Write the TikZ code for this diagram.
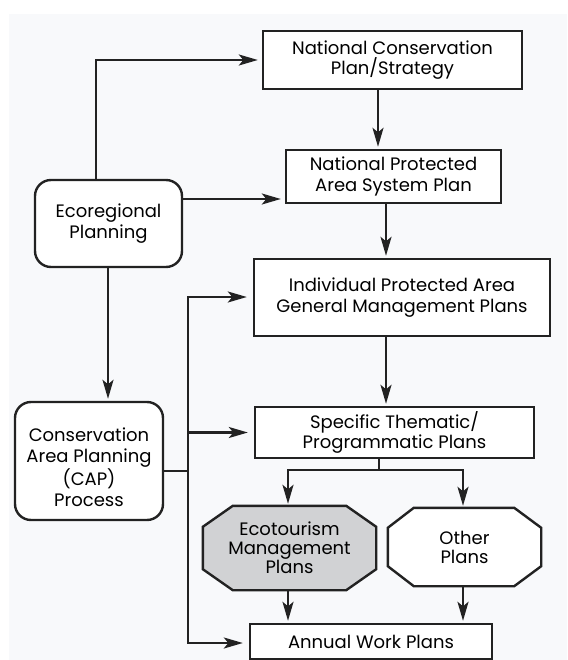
\documentclass[tikz,border=0pt]{standalone}
\usepackage{fontspec}
\setmainfont{Poppins}
\usetikzlibrary{arrows.meta,backgrounds}

\definecolor{pagebg}{RGB}{248,249,251}
\definecolor{ink}{RGB}{34,34,34}
\definecolor{octgray}{RGB}{209,210,212}

\tikzset{
  labelfont/.style={font=\fontsize{18}{20.5}\selectfont},
  plainbox/.style={draw=ink, line width=2.4pt, fill=white, rectangle,
    align=center, inner sep=0pt, labelfont},
  roundbox/.style={plainbox, rounded corners=16pt},
  octbox/.style={rectangle, inner sep=0pt, align=center,
    font=\fontsize{18}{19}\selectfont},
  octline/.style={draw=ink, line width=2.4pt},
  rail/.style={draw=ink, line width=2.2pt},
  link/.style={rail, -{Stealth[length=19pt,width=11pt,inset=4.5pt]}, shorten >=2pt},
  sidelink/.style={link, shorten >=6pt},
}

\begin{document}
\begin{tikzpicture}[x=1pt,y=-1pt]
\useasboundingbox (0,0) rectangle (567,660);
\begin{scope}[on background layer]
  \fill[pagebg] (9,14) rectangle (567,660);
\end{scope}

% main chain of plans
\node[plainbox, minimum width=259pt, minimum height=58pt] (ncp) at (392.5,60)
  {National Conservation\\Plan/Strategy};
\node[plainbox, minimum width=215pt, minimum height=53pt] (npas) at (393.5,176.5)
  {National Protected\\Area System Plan};
\node[plainbox, minimum width=296pt, minimum height=77pt] (ipa) at (402,297.5)
  {Individual Protected Area\\General Management Plans};
\node[plainbox, minimum width=279pt, minimum height=51pt] (stp) at (394.5,432.5)
  {Specific Thematic/\\Programmatic Plans};
\node[plainbox, minimum width=242pt, minimum height=35pt] (awp) at (371,641.5)
  {Annual Work Plans};

% planning processes on the left
\node[roundbox, minimum width=147pt, minimum height=87pt] (eco) at (108.5,223.5)
  {Ecoregional\\Planning};
% the CAP label sits a little below the middle of its box
\node[roundbox, minimum width=148pt, minimum height=118pt,
      font=\fontsize{18}{21}\selectfont] (cap) at (89,461)
  {\raisebox{-9pt}[\height][\depth]{\begin{tabular}{@{}c@{}}Conservation\\
   Area Planning\\(CAP)\\Process\end{tabular}}};

% octagonal plan nodes
\node[octbox, minimum width=173pt, minimum height=84pt] (eto) at (289.5,548)
  {Ecotourism\\Management\\Plans};
\node[octbox, minimum width=153pt, minimum height=78pt] (oth) at (464.5,547)
  {Other\\Plans};
\begin{scope}[on background layer]
  \filldraw[octline, fill=octgray]
    ([xshift=30pt]eto.north west) -- ([xshift=-30pt]eto.north east)
    -- ([yshift=-21pt]eto.north east) -- ([yshift=21pt]eto.south east)
    -- ([xshift=-30pt]eto.south east) -- ([xshift=30pt]eto.south west)
    -- ([yshift=21pt]eto.south west) -- ([yshift=-21pt]eto.north west) -- cycle;
  \filldraw[octline, fill=white]
    ([xshift=26pt]oth.north west) -- ([xshift=-27pt]oth.north east)
    -- ([yshift=-20pt]oth.north east) -- ([yshift=20pt]oth.south east)
    -- ([xshift=-27pt]oth.south east) -- ([xshift=26pt]oth.south west)
    -- ([yshift=20pt]oth.south west) -- ([yshift=-20pt]oth.north west) -- cycle;
\end{scope}

% guide positions for connectors
\coordinate (gncp) at (378,0);
\coordinate (gmid) at (386,0);
\coordinate (gup) at (96,0);
\coordinate (gcap) at (108,0);
\coordinate (geto) at (288,0);
\coordinate (goth) at (463,0);
\coordinate (ecoy) at (0,199);
\coordinate (split) at (379,470);
\coordinate (capy) at (0,471);
\coordinate (railjoin) at (188,471);
\coordinate (railtop) at (188,297);
\coordinate (railbot) at (188,643);

% connectors
\draw[link, shorten >=4pt] (eco.north -| gup) |- (ncp.west);
\draw[link, shorten >=4pt] (eco.east |- ecoy) -- (npas.west |- ecoy);
\draw[link] (ncp.south -| gncp) -- (npas.north -| gncp);
\draw[link] (npas.south -| gmid) -- (ipa.north -| gmid);
\draw[link] (ipa.south -| gmid) -- (stp.north -| gmid);
\draw[link] (eco.south -| gcap) -- (cap.north -| gcap);
\draw[rail] (stp.south -| split) -- (split);
\draw[link] (split) -| (eto.north -| geto);
\draw[link] (split) -| (oth.north -| goth);
\draw[link] (eto.south -| geto) -- (awp.north -| geto);
\draw[link] (oth.south -| goth) -- (awp.north -| goth);

\draw[rail] (cap.east |- capy) -- (railjoin);
\draw[sidelink] (railjoin) -- (railtop) -- (ipa.west |- railtop);
\draw[sidelink] (railjoin) -- (railbot) -- (awp.west |- railbot);
\draw[sidelink] (stp.west -| railjoin) -- (stp.west);
\end{tikzpicture}
\end{document}
